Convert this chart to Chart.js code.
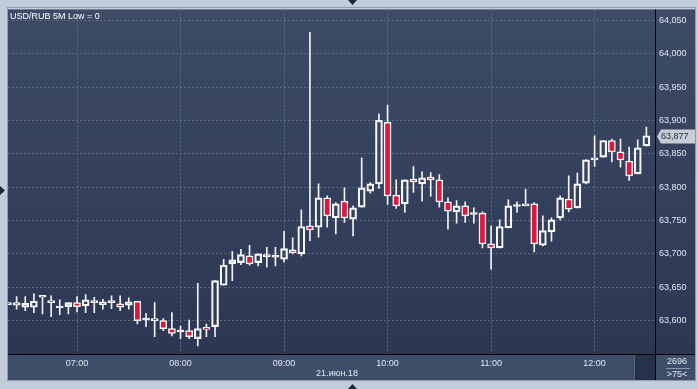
<!DOCTYPE html>
<html>
<head>
<meta charset="utf-8">
<title>USD/RUB 5M</title>
<script src="https://cdn.jsdelivr.net/npm/chart.js@4.4.1/dist/chart.umd.min.js"></script>
<style>
  html, body { margin: 0; padding: 0; background: #c2cddc; overflow: hidden; }
  #wrap { width: 698px; height: 389px; }
</style>
</head>
<body>
<div id="wrap"><canvas id="chart" width="698" height="389"></canvas></div>
<script>
// --- 1. DATA (5-minute candles, 21.06.18) ---
const times = [
  '06:20', '06:25', '06:30', '06:35', '06:40', '06:45', '06:50', '06:55',
  '07:00', '07:05', '07:10', '07:15', '07:20', '07:25', '07:30', '07:35', '07:40', '07:45', '07:50', '07:55',
  '08:00', '08:05', '08:10', '08:15', '08:20', '08:25', '08:30', '08:35', '08:40', '08:45', '08:50', '08:55',
  '09:00', '09:05', '09:10', '09:15', '09:20', '09:25', '09:30', '09:35', '09:40', '09:45', '09:50', '09:55',
  '10:00', '10:05', '10:10', '10:15', '10:20', '10:25', '10:30', '10:35', '10:40', '10:45', '10:50', '10:55',
  '11:00', '11:05', '11:10', '11:15', '11:20', '11:25', '11:30', '11:35', '11:40', '11:45', '11:50', '11:55',
  '12:00', '12:05', '12:10', '12:15', '12:20', '12:25', '12:30'
];

const opens = [
  63.624, 63.623, 63.620, 63.620, 63.635, 63.627, 63.619, 63.621,
  63.627, 63.622, 63.627, 63.624, 63.627, 63.625, 63.623, 63.629, 63.601, 63.600, 63.600, 63.588,
  63.583, 63.585, 63.573, 63.590, 63.591, 63.653, 63.685, 63.687, 63.697, 63.687, 63.696, 63.695,
  63.692, 63.706, 63.700, 63.742, 63.740, 63.784, 63.754, 63.779, 63.752, 63.770, 63.794, 63.805,
  63.897, 63.788, 63.775, 63.812, 63.805, 63.815, 63.811, 63.778, 63.763, 63.772, 63.759, 63.761,
  63.715, 63.709, 63.739, 63.771, 63.772, 63.775, 63.713, 63.733, 63.754, 63.782, 63.769, 63.806,
  63.841, 63.845, 63.870, 63.853, 63.839, 63.820, 63.862
];

const highs = [
  63.627, 63.636, 63.636, 63.640, 63.635, 63.637, 63.631, 63.627,
  63.636, 63.639, 63.635, 63.632, 63.637, 63.637, 63.634, 63.629, 63.611, 63.627, 63.603, 63.612,
  63.592, 63.601, 63.656, 63.595, 63.660, 63.692, 63.704, 63.707, 63.713, 63.700, 63.710, 63.710,
  63.734, 63.724, 63.766, 64.032, 63.805, 63.787, 63.777, 63.799, 63.772, 63.844, 63.807, 63.910,
  63.923, 63.811, 63.811, 63.831, 63.823, 63.822, 63.819, 63.784, 63.780, 63.778, 63.769, 63.763,
  63.742, 63.751, 63.781, 63.778, 63.797, 63.777, 63.757, 63.754, 63.787, 63.817, 63.821, 63.841,
  63.877, 63.870, 63.872, 63.872, 63.860, 63.871, 63.890
];

const lows = [
  63.624, 63.617, 63.615, 63.612, 63.610, 63.606, 63.609, 63.610,
  63.613, 63.612, 63.612, 63.617, 63.618, 63.615, 63.617, 63.595, 63.591, 63.576, 63.585, 63.577,
  63.573, 63.573, 63.562, 63.576, 63.576, 63.653, 63.660, 63.684, 63.683, 63.682, 63.680, 63.682,
  63.688, 63.700, 63.697, 63.720, 63.725, 63.740, 63.730, 63.747, 63.727, 63.770, 63.791, 63.798,
  63.774, 63.768, 63.762, 63.792, 63.779, 63.786, 63.770, 63.737, 63.746, 63.747, 63.746, 63.709,
  63.677, 63.709, 63.739, 63.762, 63.772, 63.703, 63.712, 63.719, 63.751, 63.763, 63.769, 63.805,
  63.831, 63.845, 63.838, 63.830, 63.810, 63.820, 63.862
];

const closes = [
  63.627, 63.627, 63.626, 63.629, 63.635, 63.630, 63.619, 63.627,
  63.621, 63.631, 63.627, 63.628, 63.627, 63.620, 63.628, 63.600, 63.601, 63.603, 63.588, 63.581,
  63.583, 63.576, 63.588, 63.587, 63.660, 63.683, 63.691, 63.699, 63.685, 63.700, 63.696, 63.695,
  63.708, 63.702, 63.741, 63.736, 63.784, 63.757, 63.775, 63.754, 63.769, 63.799, 63.805, 63.900,
  63.787, 63.772, 63.811, 63.808, 63.814, 63.811, 63.778, 63.764, 63.772, 63.757, 63.759, 63.715,
  63.709, 63.741, 63.772, 63.771, 63.775, 63.715, 63.735, 63.751, 63.784, 63.767, 63.805, 63.841,
  63.844, 63.870, 63.853, 63.841, 63.817, 63.859, 63.877
];

const hourLabels = ['07:00', '08:00', '09:00', '10:00', '11:00', '12:00'];
const yTickValues = [63.600, 63.650, 63.700, 63.750, 63.800, 63.850, 63.900, 63.950, 64.000, 64.050];
const xRange = ['06:20', '12:35'];
const yRange = [63.550, 64.0664];

const titleText = 'USD/RUB 5M Low = 0';
const dateLabel = '21.июн.18';
const countText = '2696';
const zoomText = '>75<';

// --- 2. HELPERS ---
const toMin = s => parseInt(s.slice(0, 2), 10) * 60 + parseInt(s.slice(3), 10);
const fmtTime = m => String(Math.floor(m / 60)).padStart(2, '0') + ':' + String(m % 60).padStart(2, '0');
const fmtPrice = v => v.toFixed(3).replace('.', ',');
const isDown = i => closes[i] < opens[i];

const bodyData = times.map((t, i) => ({ x: toMin(t), y: [Math.min(opens[i], closes[i]), Math.max(opens[i], closes[i])] }));
const upperWicks = times.map((t, i) => ({ x: toMin(t), y: [Math.max(opens[i], closes[i]), highs[i]] }));
const lowerWicks = times.map((t, i) => ({ x: toMin(t), y: [lows[i], Math.min(opens[i], closes[i])] }));

const FONT = 'Liberation Sans';
const TEXT = '#dfe8f4';

// --- 3. FRAME PLUGIN (backgrounds, panel lines, labels) ---
const framePlugin = {
  id: 'frame',
  beforeDraw(chart) {
    const ctx = chart.ctx;
    const a = chart.chartArea;
    ctx.save();
    ctx.fillStyle = '#c2cddc';
    ctx.fillRect(0, 0, chart.width, chart.height);

    // plot + price scale gradient
    const g = ctx.createLinearGradient(0, a.top, 0, a.bottom);
    g.addColorStop(0, '#3e4b65');
    g.addColorStop(1, '#2b3753');
    ctx.fillStyle = g;
    ctx.fillRect(a.left, a.top, 695 - a.left, a.bottom - a.top);

    // time scale band
    ctx.fillStyle = '#3f4e68';
    ctx.fillRect(a.left, a.bottom, 695 - a.left, 380 - a.bottom);

    // small dark box at the end of the time band
    ctx.fillStyle = '#27324a';
    ctx.fillRect(635, a.bottom + 1, a.right - 635, 380 - a.bottom - 1);
    ctx.strokeStyle = '#5a6680';
    ctx.lineWidth = 1;
    ctx.beginPath();
    ctx.moveTo(634.5, a.bottom + 1);
    ctx.lineTo(634.5, 380);
    ctx.stroke();

    // panel border
    ctx.strokeStyle = '#8e9ab0';
    ctx.strokeRect(7.5, 7.5, 688, 373);
    ctx.restore();
  },
  afterDraw(chart) {
    const ctx = chart.ctx;
    const a = chart.chartArea;
    const yScale = chart.scales.y;
    ctx.save();

    // black axis lines
    ctx.strokeStyle = '#000000';
    ctx.lineWidth = 1;
    ctx.beginPath();
    ctx.moveTo(a.left, a.bottom + 0.5);
    ctx.lineTo(695, a.bottom + 0.5);
    ctx.moveTo(a.right + 0.5, a.top);
    ctx.lineTo(a.right + 0.5, 380);
    ctx.stroke();

    // title
    ctx.fillStyle = '#ffffff';
    ctx.font = '9px "' + FONT + '"';
    ctx.textAlign = 'left';
    ctx.textBaseline = 'alphabetic';
    ctx.fillText(titleText, 10, 18.5);

    // date under the time axis
    ctx.fillStyle = TEXT;
    ctx.textAlign = 'center';
    ctx.textBaseline = 'middle';
    ctx.fillText(dateLabel, 337, 374);

    // counter box on the bottom right
    ctx.fillText(countText, 677, 362);
    ctx.fillText(zoomText, 677, 374.5);
    ctx.strokeStyle = '#8a98b0';
    ctx.beginPath();
    ctx.moveTo(666, 368.5);
    ctx.lineTo(690, 368.5);
    ctx.stroke();

    // last price marker
    const last = closes[closes.length - 1];
    const py = Math.round(yScale.getPixelForValue(last)) + 0.5;
    ctx.fillStyle = '#c9ced6';
    ctx.beginPath();
    ctx.moveTo(657, py);
    ctx.lineTo(661, py - 7);
    ctx.lineTo(695, py - 7);
    ctx.lineTo(695, py + 7);
    ctx.lineTo(661, py + 7);
    ctx.closePath();
    ctx.fill();
    ctx.fillStyle = '#1c2a44';
    ctx.textAlign = 'left';
    ctx.fillText(fmtPrice(last), 661, py + 0.5);

    // splitter arrows
    ctx.fillStyle = '#1d2739';
    ctx.beginPath();
    ctx.moveTo(348, 0); ctx.lineTo(357, 0); ctx.lineTo(352.5, 5); ctx.closePath();
    ctx.moveTo(0, 186); ctx.lineTo(0, 195); ctx.lineTo(5, 190.5); ctx.closePath();
    ctx.moveTo(348, 389); ctx.lineTo(357, 389); ctx.lineTo(352.5, 384); ctx.closePath();
    ctx.fill();
    ctx.restore();
  }
};

// --- 4. CHART ---
const grid = { color: '#5a6983', lineWidth: 1, drawTicks: false };

new Chart(document.getElementById('chart'), {
  type: 'bar',
  data: {
    datasets: [
      {
        label: 'body',
        data: bodyData,
        backgroundColor: c => isDown(c.dataIndex) ? '#e1163c' : 'rgba(0,0,0,0)',
        borderColor: '#f6f6f6',
        borderWidth: 1.5,
        borderSkipped: false,
        barThickness: 7,
        minBarLength: 2,
        grouped: false,
        order: 0
      },
      {
        label: 'upper wick',
        data: upperWicks,
        backgroundColor: '#f2f2f2',
        borderWidth: 0,
        barThickness: 1,
        grouped: false,
        order: 1
      },
      {
        label: 'lower wick',
        data: lowerWicks,
        backgroundColor: '#f2f2f2',
        borderWidth: 0,
        barThickness: 1,
        grouped: false,
        order: 1
      }
    ]
  },
  options: {
    responsive: false,
    animation: false,
    devicePixelRatio: 1,
    layout: { padding: { left: 8, top: 8, right: 3, bottom: 9 } },
    plugins: { legend: { display: false }, tooltip: { enabled: false } },
    scales: {
      x: {
        type: 'linear',
        offset: false,
        min: toMin(xRange[0]),
        max: toMin(xRange[1]),
        grid: Object.assign({ offset: false }, grid),
        border: { display: false, dash: [2, 2] },
        afterBuildTicks: s => { s.ticks = hourLabels.map(h => ({ value: toMin(h) })); },
        afterFit: s => { s.height = 26; },
        ticks: {
          color: TEXT,
          font: { family: FONT, size: 9 },
          padding: 4,
          maxRotation: 0,
          callback: v => fmtTime(v)
        }
      },
      y: {
        position: 'right',
        min: yRange[0],
        max: yRange[1],
        grid: grid,
        border: { display: false, dash: [2, 2] },
        afterBuildTicks: s => { s.ticks = yTickValues.map(v => ({ value: v })); },
        afterFit: s => { s.width = 40; },
        ticks: {
          color: TEXT,
          font: { family: FONT, size: 9 },
          padding: 4,
          callback: v => fmtPrice(v)
        }
      }
    }
  },
  plugins: [framePlugin]
});
</script>
</body>
</html>
